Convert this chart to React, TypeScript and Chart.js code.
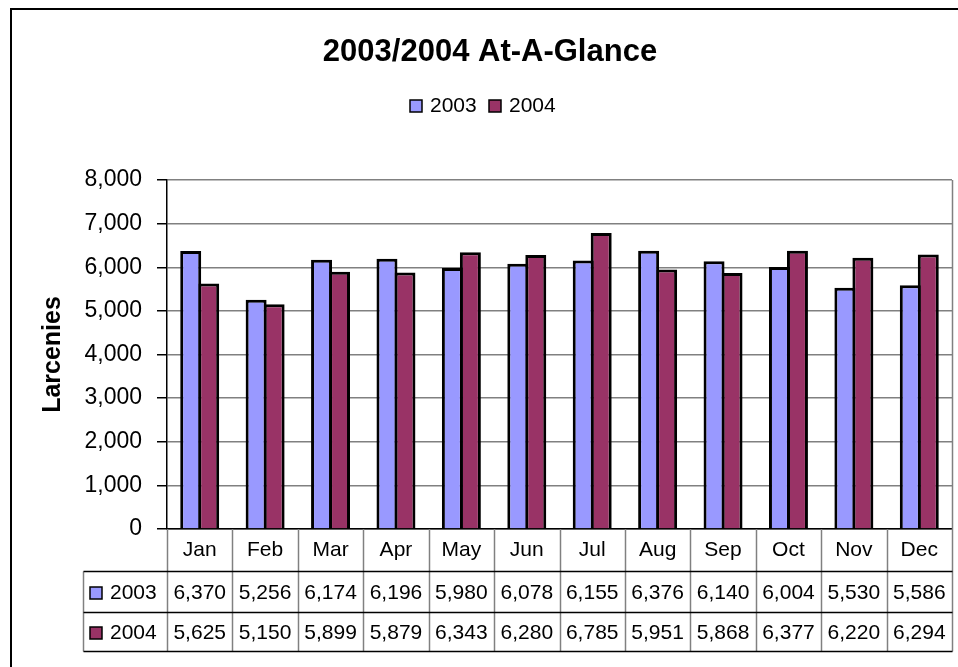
import React, { useEffect, useRef } from 'react';
import { Chart, registerables } from 'chart.js';

Chart.register(...registerables);

const chartTitle = '2003/2004 At-A-Glance';
const yAxisTitle = 'Larcenies';
const months = ['Jan', 'Feb', 'Mar', 'Apr', 'May', 'Jun', 'Jul', 'Aug', 'Sep', 'Oct', 'Nov', 'Dec'];
const seriesLabels = ['2003', '2004'];
const values2003 = [6370, 5256, 6174, 6196, 5980, 6078, 6155, 6376, 6140, 6004, 5530, 5586];
const values2004 = [5625, 5150, 5899, 5879, 6343, 6280, 6785, 5951, 5868, 6377, 6220, 6294];
const seriesColors = ['#9999FF', '#993366'];
const yMin = 0;
const yMax = 8000;
const yStep = 1000;

const FONT = "Arial, 'Liberation Sans', sans-serif";
const fmt = (v: number) => v.toLocaleString('en-US');

const tablePlugin = {
  id: 'excelTable',
  afterDraw(chart: any) {
    const { ctx, chartArea } = chart;
    const xs = chart.scales.x;
    const right = chartArea.right;
    const axisY = chartArea.bottom;
    const row1Top = 571.5;
    const row2Top = 612.5;
    const tableBottom = 651.5;
    const labelLeft = 83.5;
    ctx.save();

    // title
    ctx.fillStyle = '#000';
    ctx.font = `bold 31px ${FONT}`;
    ctx.textAlign = 'center';
    ctx.textBaseline = 'middle';
    ctx.fillText(chartTitle, 490, 52);

    // legend
    ctx.font = `21px ${FONT}`;
    ctx.textAlign = 'left';
    const legendX = [410, 489];
    seriesLabels.forEach((lab, i) => {
      ctx.fillStyle = seriesColors[i];
      ctx.fillRect(legendX[i], 100, 12, 12);
      ctx.strokeStyle = '#000';
      ctx.lineWidth = 1.5;
      ctx.strokeRect(legendX[i], 100, 12, 12);
      ctx.fillStyle = '#000';
      ctx.fillText(lab, legendX[i] + 20, 106.5);
    });

    // plot area right border
    ctx.strokeStyle = '#808080';
    ctx.lineWidth = 1.5;
    ctx.beginPath();
    ctx.moveTo(Math.round(right) + 0.5, chartArea.top);
    ctx.lineTo(Math.round(right) + 0.5, axisY);
    ctx.stroke();

    // table verticals
    ctx.strokeStyle = '#808080';
    ctx.lineWidth = 1.5;
    for (let i = 0; i <= months.length; i++) {
      const x = Math.round(xs.getPixelForValue(i - 0.5)) + 0.5;
      ctx.beginPath();
      ctx.moveTo(x, axisY);
      ctx.lineTo(x, tableBottom);
      ctx.stroke();
    }
    ctx.beginPath();
    ctx.moveTo(labelLeft, row1Top);
    ctx.lineTo(labelLeft, tableBottom);
    ctx.stroke();

    // table horizontals
    ctx.strokeStyle = '#000';
    ctx.lineWidth = 1.5;
    [row1Top, row2Top, tableBottom].forEach((y) => {
      ctx.beginPath();
      ctx.moveTo(labelLeft, y);
      ctx.lineTo(right + 0.5, y);
      ctx.stroke();
    });

    // table rows
    const rows = [values2003, values2004];
    const rowCenters = [(row1Top + row2Top) / 2 + 1, (row2Top + tableBottom) / 2 + 1];
    ctx.font = `21px ${FONT}`;
    ctx.textBaseline = 'middle';
    rows.forEach((vals, r) => {
      const cy = rowCenters[r];
      ctx.fillStyle = seriesColors[r];
      ctx.fillRect(90, cy - 6, 12, 12);
      ctx.strokeStyle = '#000';
      ctx.lineWidth = 1.5;
      ctx.strokeRect(90, cy - 6, 12, 12);
      ctx.fillStyle = '#000';
      ctx.textAlign = 'left';
      ctx.fillText(seriesLabels[r], 110, cy);
      ctx.textAlign = 'center';
      vals.forEach((v, i) => {
        ctx.fillText(fmt(v), xs.getPixelForValue(i), cy);
      });
    });

    // outer frame
    ctx.strokeStyle = '#000';
    ctx.lineWidth = 2;
    ctx.beginPath();
    ctx.moveTo(958, 9);
    ctx.lineTo(11, 9);
    ctx.lineTo(11, 667);
    ctx.stroke();

    ctx.restore();
  },
};

export default function App() {
  const canvasRef = useRef<HTMLCanvasElement | null>(null);

  useEffect(() => {
    if (!canvasRef.current) return;
    const barStyle = {
      borderColor: '#000',
      borderWidth: 3,
      categoryPercentage: 0.55,
      barPercentage: 1.1667,
    };
    const chart = new Chart(canvasRef.current, {
      type: 'bar',
      data: {
        labels: months,
        datasets: [
          { label: seriesLabels[0], data: values2003, backgroundColor: seriesColors[0], ...barStyle },
          { label: seriesLabels[1], data: values2004, backgroundColor: seriesColors[1], ...barStyle },
        ],
      },
      options: {
        responsive: false,
        animation: false,
        layout: { padding: { top: 180, right: 6, left: 0, bottom: 0 } },
        plugins: {
          legend: { display: false },
          title: { display: false },
          tooltip: { enabled: false },
        },
        scales: {
          x: {
            grid: { display: false },
            border: { display: true, color: '#000', width: 1.5 },
            ticks: {
              color: '#000',
              font: { family: FONT, size: 21 },
              padding: 1,
              maxRotation: 0,
              autoSkip: false,
            },
            afterFit: (scale: any) => {
              scale.height = 138;
            },
          },
          y: {
            min: yMin,
            max: yMax,
            ticks: {
              stepSize: yStep,
              color: '#000',
              font: { family: FONT, size: 23 },
              padding: 15,
              callback: (v: any) => fmt(Number(v)),
            },
            grid: {
              color: '#808080',
              lineWidth: 1.5,
              tickLength: 10,
              tickColor: '#000',
              drawTicks: true,
            },
            border: { display: true, color: '#000', width: 1.5 },
            title: {
              display: true,
              text: yAxisTitle,
              color: '#000',
              font: { family: FONT, size: 25, weight: 'bold' },
              padding: { top: 38, bottom: 0 },
            },
            afterFit: (scale: any) => {
              scale.width = 167;
            },
          },
        },
      },
      plugins: [tablePlugin],
    });
    return () => chart.destroy();
  }, []);

  return (
    <div style={{ position: 'absolute', left: 0, top: 0, width: 958, height: 667, background: '#fff' }}>
      <canvas ref={canvasRef} width={958} height={667} style={{ display: 'block' }} />
    </div>
  );
}
